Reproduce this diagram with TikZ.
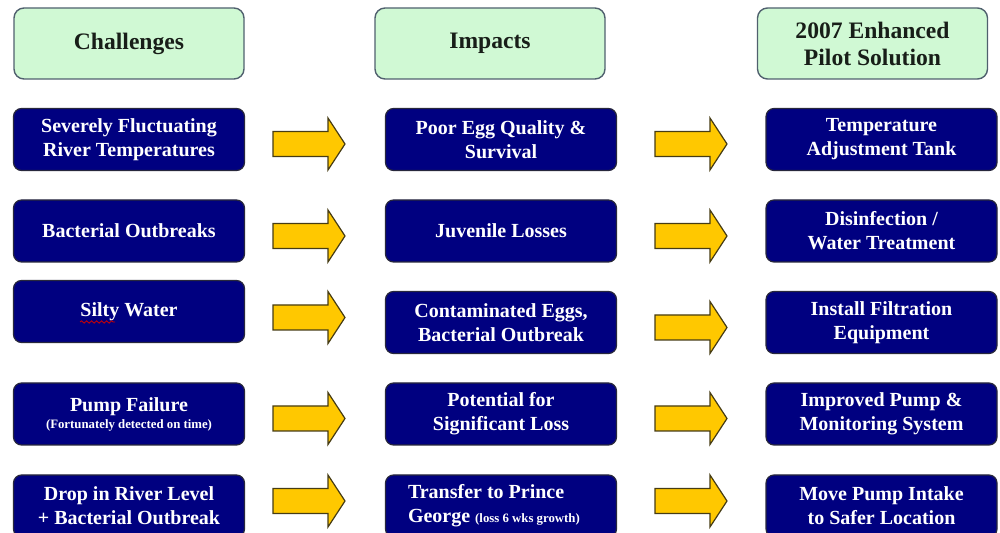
\documentclass[tikz,border=0pt]{standalone}
\usepackage{fontspec}
\setmainfont{Liberation Serif}
\usetikzlibrary{calc, decorations.pathmorphing}

\definecolor{headfill}{RGB}{208,249,212}
\definecolor{headline}{RGB}{80,96,110}
\definecolor{headtext}{RGB}{24,30,24}
\definecolor{navybox}{RGB}{0,0,128}
\definecolor{itemline}{RGB}{40,40,60}
\definecolor{arrowfill}{RGB}{255,200,0}
\definecolor{arrowline}{RGB}{70,60,20}

\newcommand{\smallnote}[1]{{\fontsize{6.4}{7.7}\selectfont #1}}

\begin{document}
\begin{tikzpicture}[x=0.5pt, y=-0.5pt,
	headbox/.style={draw=headline, fill=headfill, rounded corners=5pt, line width=0.7pt,
		minimum width=115pt, minimum height=35.5pt, align=center, text=headtext,
		font=\fontsize{11.8}{13.5}\selectfont\bfseries},
	itembox/.style={draw=itemline, fill=navybox, rounded corners=4pt, line width=0.6pt,
		minimum width=115.5pt, minimum height=31pt, align=center, text=white,
		font=\fontsize{10}{12}\selectfont\bfseries},
	fatarrow/.pic={
		\draw[fill=arrowfill, draw=arrowline, line width=0.6pt]
		(-36,-12.5) -- (19,-12.5) -- (19,-26) -- (36,0) -- (19,26) -- (19,12.5) -- (-36,12.5) -- cycle;
	}]
	
	% --- 0. FRAME ---
	\useasboundingbox (0,0) rectangle (1000,533);
	\clip (0,0) rectangle (1000,533);
	
	% --- 1. THE HEADERS ---
	\node[headbox] (hd1) at (129,43.5) {Challenges};
	\node[headbox] (hd2) at (490,43.5) {Impacts};
	\node[headbox] (hd3) at (872.5,43.5) {2007 Enhanced\\Pilot Solution};
	
	% --- 2. CHALLENGES (left column) ---
	\node[itembox] (ch1) at (129,139.5) {Severely Fluctuating\\River Temperatures};
	\node[itembox] (ch2) at (129,231) {Bacterial Outbreaks};
	\node[itembox] (ch3) at (129,311.5) {Silty Water};
	\node[itembox] (ch4) at (129,414) {Pump Failure\\[-3.5pt]\smallnote{(Fortunately detected on time)}};
	\node[itembox] (ch5) at (129,506) {Drop in River Level\\+ Bacterial Outbreak};
	
	% spell-check mark under "Silty"
	\draw[red!80!black, line width=0.4pt, decorate, decoration={snake, amplitude=0.6pt, segment length=2.5pt}]
	($(ch3.center)+(-49,10.5)$) -- ($(ch3.center)+(-14,10.5)$);
	
	% --- 3. IMPACTS (middle column) ---
	\node[itembox] (im1) at (501,139.5) {Poor Egg Quality \&\\Survival};
	\node[itembox] (im2) at (501,231) {Juvenile Losses};
	\node[itembox] (im3) at (501,322.5) {Contaminated Eggs,\\Bacterial Outbreak};
	\node[itembox] (im4) at (501,414) {Potential for\\Significant Loss};
	\node[itembox, text width=93pt, align=flush left] (im5) at (501,506)
	{Transfer to Prince\\George \smallnote{(loss 6 wks growth)}};
	
	% --- 4. SOLUTIONS (right column) ---
	\node[itembox] (so1) at (881.5,139.5) {Temperature\\Adjustment Tank};
	\node[itembox] (so2) at (881.5,231) {Disinfection /\\Water Treatment};
	\node[itembox] (so3) at (881.5,322.5) {Install Filtration\\Equipment};
	\node[itembox] (so4) at (881.5,414) {Improved Pump \&\\Monitoring System};
	\node[itembox] (so5) at (881.5,506) {Move Pump Intake\\to Safer Location};
	
	% --- 5. THE BLOCK ARROWS ---
	\foreach \i/\ya/\yb in {1/144/144, 2/236/236, 3/317.5/327.5, 4/418.5/418.5, 5/501/501} {
		\pic (arl\i) at (309,\ya) {fatarrow};
		\pic (arr\i) at (691,\yb) {fatarrow};
	}
	
\end{tikzpicture}
\end{document}
